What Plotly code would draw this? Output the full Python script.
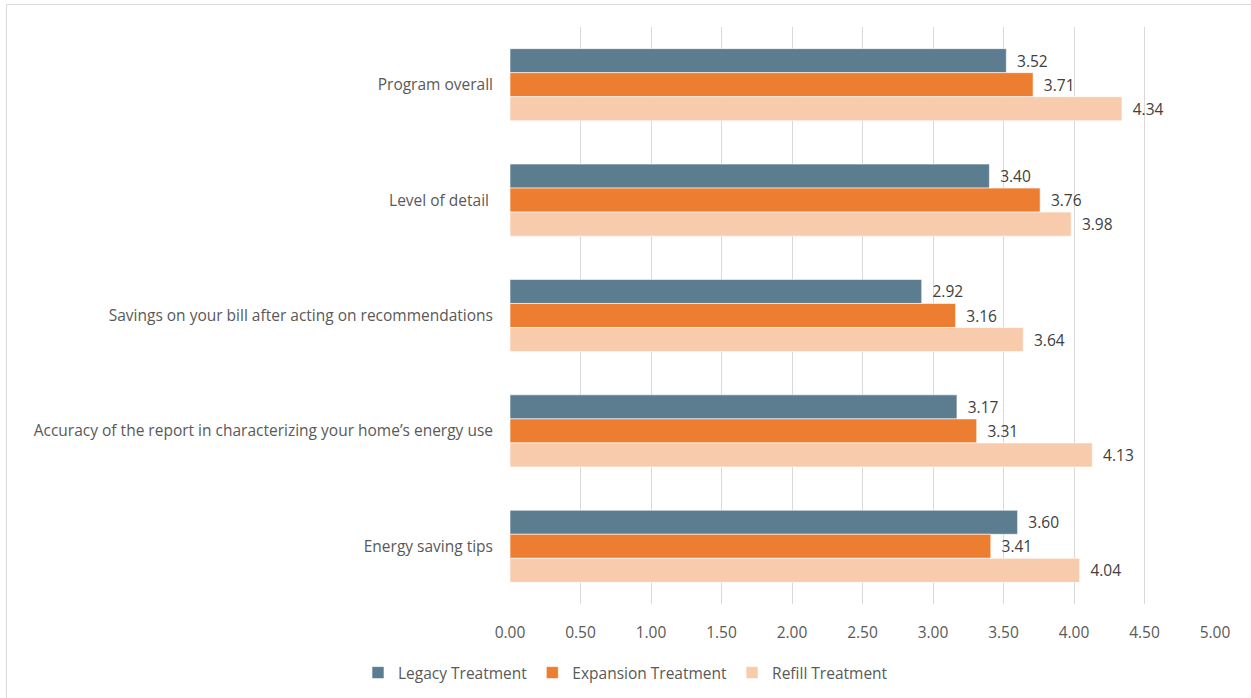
import plotly.graph_objects as go

categories = [
    "Program overall",
    "Level of detail ",
    "Savings on your bill after acting on recommendations",
    "Accuracy of the report in characterizing your home\u2019s energy use",
    "Energy saving tips",
]
legacy = [3.52, 3.40, 2.92, 3.17, 3.60]
expansion = [3.71, 3.76, 3.16, 3.31, 3.41]
refill = [4.34, 3.98, 3.64, 4.13, 4.04]
series_names = ["Legacy Treatment", "Expansion Treatment", "Refill Treatment"]
colors = ["#5b7d8f", "#ed7d31", "#f8cbad"]
x_ticks = [0, 0.5, 1, 1.5, 2, 2.5, 3, 3.5, 4, 4.5, 5]

FONT = "'Open Sans', sans-serif"
FS = 15.5

fig = go.Figure()
for name, vals, col in zip(series_names, [legacy, expansion, refill], colors):
    fig.add_trace(go.Bar(
        y=categories, x=vals, name=name, orientation="h",
        marker=dict(color=col, line=dict(color="white", width=0.6)),
        texttemplate="\u2002%{x:.2f}", textposition="outside",
        textfont=dict(family=FONT, size=FS, color="#404040"),
        cliponaxis=False,
    ))

W, H = 1251, 698
L, R, T, B = 510, 36, 27, 94
pw, ph = W - L - R, H - T - B

def px(x):
    return (x - L) / pw

def py(y):
    return (H - B - y) / ph

fig.update_layout(
    width=W, height=H,
    margin=dict(l=L, r=R, t=T, b=B),
    paper_bgcolor="white", plot_bgcolor="white",
    barmode="group", bargap=0.375, bargroupgap=0,
    font=dict(family=FONT, size=FS, color="#595959"),
    xaxis=dict(range=[0, 5], tickvals=x_ticks, tickformat=".2f",
               showgrid=True, gridcolor="#d9d9d9", gridwidth=1,
               zeroline=False, showline=False, ticks="",
               tickfont=dict(size=FS, color="#595959"), ticklabelstandoff=17),
    yaxis=dict(autorange="reversed", showgrid=False, zeroline=False,
               showline=False, ticks="", ticklabelstandoff=16,
               tickfont=dict(size=FS, color="#595959")),
    legend=dict(orientation="h", xref="container", yref="container",
                x=0.5, xanchor="center", y=(H - 673) / H, yanchor="middle",
                font=dict(size=FS, color="#595959"), traceorder="normal",
                itemwidth=30),
    showlegend=True,
    shapes=[dict(type="rect", xref="paper", yref="paper",
                 x0=px(6.5), x1=px(1253), y0=py(4.5), y1=py(700),
                 line=dict(color="#d9d9d9", width=1), layer="below")],
)

fig.write_html("out.html")
